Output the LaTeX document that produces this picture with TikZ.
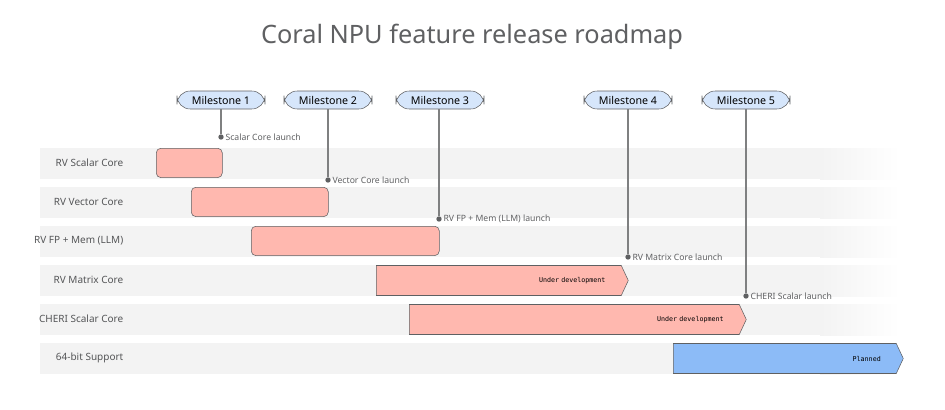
\documentclass[tikz,border=0pt]{standalone}
\usepackage{fontspec}
\setmainfont{Noto Sans}
\setmonofont{DejaVu Sans Mono}
\usetikzlibrary{shapes,shapes.symbols,positioning}
\definecolor{barred}{HTML}{FFB8AF}
\definecolor{barblue}{HTML}{8CBBF7}
\definecolor{pill}{HTML}{D6E6FB}
\definecolor{ink}{HTML}{5F6062}
\definecolor{band}{HTML}{F3F3F3}
\begin{document}
\begin{tikzpicture}[x=0.75pt,y=-0.75pt]
             \tikzstyle{milestone} = [draw=ink,fill=pill,rounded corners=3.5mm,minimum width=66pt,minimum height=13.5pt,inner sep=0pt,font=\fontsize{8}{9}\selectfont]
             \tikzstyle{rowlabel} = [anchor=east,font=\fontsize{7.5}{9}\selectfont\bfseries,text=ink!90!black]
             \tikzstyle{done} = [draw=ink,fill=barred,rounded corners=1.2mm,anchor=north west,inner sep=0pt]
             \tikzstyle{going} = [draw=ink,fill=barred,shape=signal,signal to=east,signal pointer angle=130,anchor=west,inner sep=0pt,minimum height=22.5pt,align=right,font=\ttfamily\fontsize{5}{6}\selectfont]
             \tikzstyle{dot} = [fill=ink,shape=circle,minimum size=4pt,inner sep=0pt]
             \tikzstyle{launch} = [anchor=west,inner sep=1pt,text=ink,font=\fontsize{6.5}{8}\selectfont]
             \tikzstyle{stem} = [draw=ink!80,line width=0.8pt]
		\useasboundingbox (0,0) rectangle (945,410);
		% Title
		\node at (472,37)(title) {\fontsize{19}{22}\selectfont\bfseries\color{ink}Coral NPU feature release roadmap};
		% Bands
		\foreach \y in {148,187,226,265,304,343}{
		\fill[band] (40,\y) rectangle (820,\y+31);
		\shade[left color=band,right color=white] (820,\y) rectangle (900,\y+31);
		}
		% Rows
		\node[rowlabel] at (128,163)(r1) {RV Scalar Core};
		\node[rowlabel] at (128,202)(r2) {RV Vector Core};
		\node[rowlabel] at (128,241)(r3) {RV FP + Mem (LLM)};
		\node[rowlabel] at (128,280)(r4) {RV Matrix Core};
		\node[rowlabel] at (128,319)(r5) {CHERI Scalar Core};
		\node[rowlabel] at (128,358)(r6) {64-bit Support};
		% Bars
		\node[done,minimum width=49.5pt,minimum height=22pt] at (156,148)(b1) {};
		\node[done,minimum width=102.75pt,minimum height=22pt] at (191,187)(b2) {};
		\node[done,minimum width=141pt,minimum height=22pt] at (251,226)(b3) {};
		\node[going,minimum width=189pt,text width=160pt] at (376,280.5)(b4) {Under development};
		\node[going,minimum width=252.75pt,text width=224pt] at (409,319.5)(b5) {Under development};
		\node[going,fill=barblue,minimum width=172.5pt,text width=144pt] at (673,358.5)(b6) {Planned};
		% Milestones
		\node[milestone] at (221,100)(m1) {Milestone 1};
		\node[milestone] at (328,100)(m2) {Milestone 2};
		\node[milestone] at (440,100)(m3) {Milestone 3};
		\node[milestone] at (628,100)(m4) {Milestone 4};
		\node[milestone] at (746,100)(m5) {Milestone 5};
		% Launches
		\node[dot] at (221,137)(d1) {};
		\node[launch,right=0pt of d1](l1) {Scalar Core launch};
		\draw[stem] (m1) -- (d1);
		\node[dot] at (328,180)(d2) {};
		\node[launch,right=0pt of d2](l2) {Vector Core launch};
		\draw[stem] (m2) -- (d2);
		\node[dot] at (439,219)(d3) {};
		\node[launch,right=0pt of d3](l3) {RV FP + Mem (LLM) launch};
		\draw[stem] (m3.south -| d3) -- (d3);
		\node[dot] at (628,257)(d4) {};
		\node[launch,right=0pt of d4](l4) {RV Matrix Core launch};
		\draw[stem] (m4) -- (d4);
		\node[dot] at (746,296)(d5) {};
		\node[launch,right=0pt of d5](l5) {CHERI Scalar launch};
		\draw[stem] (m5) -- (d5);
		\end{tikzpicture}
\end{document}
